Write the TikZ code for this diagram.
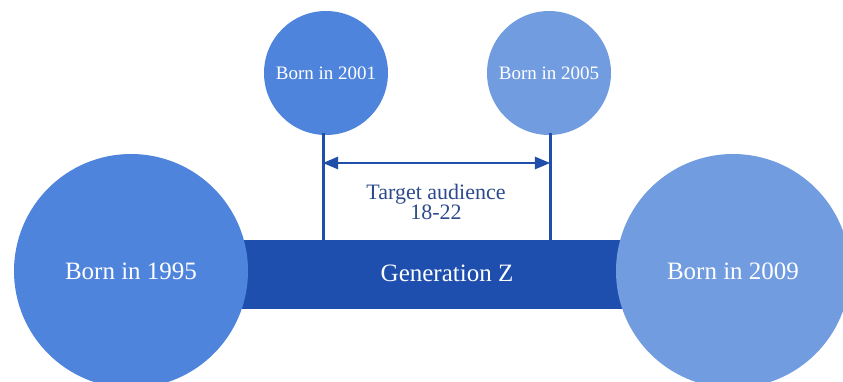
\documentclass[tikz,border=0pt]{standalone}
\usepackage{fontspec}
\setmainfont{Liberation Serif}
\usetikzlibrary{arrows}
\usetikzlibrary{calc}
\definecolor{barblue}{HTML}{1E4FAE}
\definecolor{midblue}{HTML}{4F84DC}
\definecolor{paleblue}{HTML}{719CE0}
\definecolor{lineblue}{HTML}{1F4FA8}
\definecolor{textblue}{HTML}{2C4B8C}
\tikzset{big/.style={circle, inner sep=0pt, minimum size=234pt, text=white, font=\fontsize{25}{25}\selectfont}}
\tikzset{small/.style={circle, inner sep=0pt, minimum size=124pt, text=white, font=\fontsize{19}{19}\selectfont}}
\tikzset{tick/.style={draw=lineblue, line width=3pt}}

\begin{document}
\begin{tikzpicture}[x=1pt, y=-1pt]
        \useasboundingbox (0,0) rectangle (843,381);
        \node [fill=barblue, minimum width=390pt, minimum height=69pt, inner sep=0pt] (bar) at (435,274.5) {};
        \node [big, fill=midblue] (b1995) at (131,271) {Born in 1995};
        \node [big, fill=paleblue] (b2009) at (733,271) {Born in 2009};
        \node [text=white, font=\fontsize{25}{25}\selectfont] (genz) at (447,273) {Generation Z};
        \node [small, fill=midblue] (b2001) at (326,73) {Born in 2001};
        \node [small, fill=paleblue] (b2005) at (549,73) {Born in 2005};
        % drop lines down to the bar
        \coordinate (l1) at (323,133);
        \coordinate (l2) at (550,133);
        \draw [tick] (l1) -- (l1 |- bar.north);
        \draw [tick] (l2) -- (l2 |- bar.north);
        \coordinate (a1) at (323,163);
        \coordinate (a2) at (550,163);
        \draw [tick, line width=2.6pt, -triangle 45] ($(a1)!0.5!(a2)$) -- (a2);
        \draw [tick, line width=2.6pt, -triangle 45] ($(a1)!0.5!(a2)$) -- (a1);
        \node [text=textblue, align=center, font=\fontsize{22}{18}\selectfont] (target) at (436,202) {Target audience\\18-22};
      \end{tikzpicture}
\end{document}
